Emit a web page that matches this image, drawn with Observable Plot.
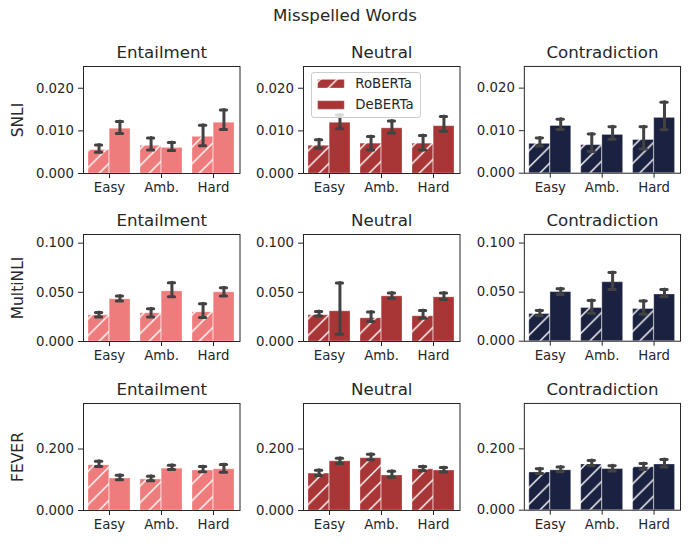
<!DOCTYPE html>
<html><head><meta charset="utf-8">
<script src="https://cdn.jsdelivr.net/npm/d3@7"></script>
<script src="https://cdn.jsdelivr.net/npm/@observablehq/plot@0.6"></script>
<style>
body{margin:0;background:#fff;font-family:"DejaVu Sans",sans-serif;}
#wrap{position:relative;width:690px;height:544px;overflow:hidden;}
.panel{position:absolute;}
#title{position:absolute;left:0;width:690px;top:6px;text-align:center;font-size:16.67px;color:#262626;}
#legend{position:absolute;box-sizing:border-box;background:rgba(255,255,255,0.8);border:1px solid #cccccc;border-radius:3px;}
</style></head><body>
<div id="wrap"><div id="title">Misspelled Words</div></div>
<script>
const difficulties = ["Easy", "Amb.", "Hard"];
const labelNames = ["Entailment", "Neutral", "Contradiction"];
const datasetNames = ["SNLI", "MultiNLI", "FEVER"];
const modelNames = ["RoBERTa", "DeBERTa"];
const labelColors = ["#EF7C7C", "#A83636", "#1B2241"];
const yMaxes = [0.0251, 0.1088, 0.348];
const yTicksSNLI = [0, 0.01, 0.02];
const yTicksMultiNLI = [0, 0.05, 0.1];
const yTicksFEVER = [0, 0.2];

// [mean, low, high] per difficulty (Easy, Amb., Hard)
const snliEntRoberta = [[0.0055,0.0050,0.0067],[0.0065,0.0055,0.0083],[0.0086,0.0065,0.0113]];
const snliEntDeberta = [[0.0105,0.0094,0.0122],[0.0060,0.0054,0.0073],[0.0119,0.0103,0.0149]];
const snliNeuRoberta = [[0.0065,0.0059,0.0079],[0.0070,0.0055,0.0087],[0.0070,0.0055,0.0089]];
const snliNeuDeberta = [[0.0119,0.0105,0.0137],[0.0106,0.0095,0.0123],[0.0111,0.0099,0.0134]];
const snliConRoberta = [[0.0069,0.0064,0.0083],[0.0066,0.0051,0.0092],[0.0078,0.0057,0.0109]];
const snliConDeberta = [[0.0111,0.0103,0.0127],[0.0090,0.0080,0.0109],[0.0130,0.0102,0.0167]];
const mnliEntRoberta = [[0.0267,0.0250,0.0294],[0.0287,0.0250,0.0334],[0.0297,0.0243,0.0385]];
const mnliEntDeberta = [[0.0429,0.0412,0.0463],[0.0510,0.0456,0.0598],[0.0500,0.0463,0.0547]];
const mnliNeuRoberta = [[0.0267,0.0260,0.0304],[0.0236,0.0203,0.0301],[0.0257,0.0236,0.0314]];
const mnliNeuDeberta = [[0.0307,0.0074,0.0595],[0.0459,0.0436,0.0493],[0.0449,0.0426,0.0493]];
const mnliConRoberta = [[0.0277,0.0260,0.0314],[0.0338,0.0284,0.0416],[0.0328,0.0274,0.0409]];
const mnliConDeberta = [[0.0500,0.0476,0.0534],[0.0601,0.0527,0.0699],[0.0476,0.0453,0.0527]];
const feverEntRoberta = [[0.147,0.143,0.160],[0.101,0.097,0.111],[0.130,0.126,0.143]];
const feverEntDeberta = [[0.104,0.100,0.115],[0.136,0.133,0.147],[0.134,0.124,0.150]];
const feverNeuRoberta = [[0.120,0.114,0.131],[0.170,0.165,0.183],[0.134,0.129,0.143]];
const feverNeuDeberta = [[0.160,0.153,0.170],[0.114,0.108,0.128],[0.130,0.125,0.140]];
const feverConRoberta = [[0.123,0.120,0.135],[0.149,0.145,0.162],[0.140,0.133,0.152]];
const feverConDeberta = [[0.130,0.125,0.141],[0.134,0.128,0.145],[0.149,0.141,0.165]];

const panelValues = [
  [[snliEntRoberta, snliEntDeberta], [snliNeuRoberta, snliNeuDeberta], [snliConRoberta, snliConDeberta]],
  [[mnliEntRoberta, mnliEntDeberta], [mnliNeuRoberta, mnliNeuDeberta], [mnliConRoberta, mnliConDeberta]],
  [[feverEntRoberta, feverEntDeberta], [feverNeuRoberta, feverNeuDeberta], [feverConRoberta, feverConDeberta]]
];
const rowTicks = [yTicksSNLI, yTicksMultiNLI, yTicksFEVER];

// layout
const frameLefts = [83, 303, 524];
const frameTops = [65.7, 234, 403.3];
const frameW = 156.5, frameH = 107;
const mL = 80, mR = 10, mT = 30, mB = 30;
const ink = "#262626";
const errColor = "#424242";

const wrap = document.getElementById("wrap");
const S = 16.67;
// hatch pattern defs
const defs = document.createElementNS("http://www.w3.org/2000/svg", "svg");
defs.setAttribute("width", 0); defs.setAttribute("height", 0);
defs.style.position = "absolute";
defs.innerHTML = "<defs>" + labelColors.map((c, i) =>
  `<pattern id="hatch${i}" patternUnits="userSpaceOnUse" width="${S}" height="${S}">
     <rect width="${S}" height="${S}" fill="${c}"/>
     <path d="M0,${S} L${S},0 M-2,2 L2,-2 M${S-2},${S+2} L${S+2},${S-2}" stroke="white" stroke-width="1.4"/>
   </pattern>`).join("") + "</defs>";
wrap.appendChild(defs);

const fmt = d3.format(".3f");
const step = frameW / 3;
const bw = step * 0.8;
const capHalf = 3;

for (let r = 0; r < 3; r++) {
  for (let c = 0; c < 3; c++) {
    const [rob, deb] = panelValues[r][c];
    const toRows = (arr) => difficulties.map((d, i) => ({difficulty: d, mean: arr[i][0], lo: arr[i][1], hi: arr[i][2]}));
    const rRows = toRows(rob), dRows = toRows(deb);
    const color = labelColors[c];
    const marks = [
      Plot.barY(rRows, {x: "difficulty", y: "mean", fill: `url(#hatch${c})`, insetRight: bw / 2 + 0.3, stroke: "white", strokeOpacity: 0.3, strokeWidth: 1}),
      Plot.barY(dRows, {x: "difficulty", y: "mean", fill: color, insetLeft: bw / 2 + 0.3, stroke: "white", strokeOpacity: 0.3, strokeWidth: 1}),
      Plot.ruleX(rRows, {x: "difficulty", y1: "lo", y2: "hi", dx: -bw / 4, stroke: errColor, strokeWidth: 3, strokeLinecap: "round"}),
      Plot.ruleX(dRows, {x: "difficulty", y1: "lo", y2: "hi", dx: bw / 4, stroke: errColor, strokeWidth: 3, strokeLinecap: "round"}),
      Plot.tickY(rRows, {x: "difficulty", y: "lo", insetLeft: bw / 4 - capHalf, insetRight: bw * 3 / 4 - capHalf, stroke: errColor, strokeWidth: 3, strokeLinecap: "round"}),
      Plot.tickY(rRows, {x: "difficulty", y: "hi", insetLeft: bw / 4 - capHalf, insetRight: bw * 3 / 4 - capHalf, stroke: errColor, strokeWidth: 3, strokeLinecap: "round"}),
      Plot.tickY(dRows, {x: "difficulty", y: "lo", insetLeft: bw * 3 / 4 - capHalf, insetRight: bw / 4 - capHalf, stroke: errColor, strokeWidth: 3, strokeLinecap: "round"}),
      Plot.tickY(dRows, {x: "difficulty", y: "hi", insetLeft: bw * 3 / 4 - capHalf, insetRight: bw / 4 - capHalf, stroke: errColor, strokeWidth: 3, strokeLinecap: "round"}),
      Plot.frame({stroke: ink, strokeWidth: 1}),
      Plot.axisX({label: null, tickSize: 5, tickPadding: 4, fontSize: 13.3, stroke: ink, fill: ink}),
      Plot.axisY({label: null, ticks: rowTicks[r], tickFormat: fmt, tickSize: 5, tickPadding: 4.5, fontSize: 13.3, stroke: ink, fill: ink}),
      Plot.text([labelNames[c]], {text: d => d, frameAnchor: "top", dy: -8.7, lineAnchor: "bottom", fontSize: 16.67, fill: ink})
    ];
    if (c === 0) {
      marks.push(Plot.text([datasetNames[r]], {text: d => d, frameAnchor: "left", dx: -65, rotate: -90, textAnchor: "middle", lineAnchor: "middle", fontSize: 15.5, fill: ink}));
    }
    const chart = Plot.plot({
      width: frameW + mL + mR,
      height: frameH + mT + mB,
      marginLeft: mL, marginRight: mR, marginTop: mT, marginBottom: mB,
      style: {fontFamily: "DejaVu Sans", color: ink, background: "transparent", overflow: "visible"},
      x: {type: "band", domain: difficulties, paddingInner: 0.2, paddingOuter: 0.1},
      y: {domain: [0, yMaxes[r]]},
      marks
    });
    const div = document.createElement("div");
    div.className = "panel";
    div.style.left = (frameLefts[c] - mL) + "px";
    div.style.top = (frameTops[r] - mT) + "px";
    div.appendChild(chart);
    wrap.appendChild(div);
  }
}

// legend (in Neutral / SNLI panel)
const legend = document.createElement("div");
legend.id = "legend";
legend.style.left = "310.7px"; legend.style.top = "72.3px";
legend.style.width = "110.5px"; legend.style.height = "45.5px";
legend.innerHTML = `<svg width="110" height="45" style="position:absolute;left:-1px;top:-1px;overflow:visible;font-family:'DejaVu Sans';">
  ${modelNames.map((m, i) => `
    <rect x="6.6" y="${7.4 + i * 21.3}" width="26.7" height="8.6" fill="${i === 0 ? 'url(#hatch1)' : labelColors[1]}" stroke="white" stroke-opacity="0.3"/>
    <text x="44.3" y="${15.6 + i * 21.5}" font-size="13.3" fill="${ink}">${m}</text>`).join("")}
</svg>`;
wrap.appendChild(legend);
</script>
</body></html>
